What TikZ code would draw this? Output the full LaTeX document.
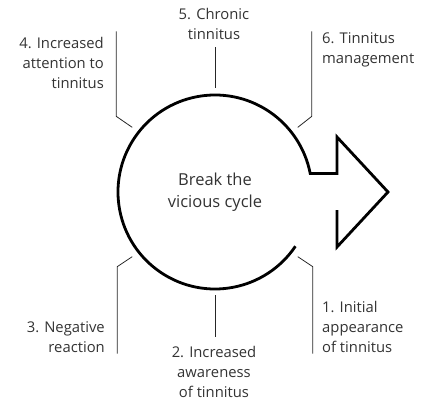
\documentclass[tikz,border=0pt]{standalone}
\usepackage{fontspec}
\setmainfont{Open Sans}
\usetikzlibrary{calc}

\tikzset{
  stage/.style={font=\fontsize{14.8}{20}\selectfont, text=black!80, inner sep=0pt},
  lead/.style={draw=black!85, line width=0.8pt},
}

\begin{document}
\begin{tikzpicture}[x=1pt,y=1pt]

	\useasboundingbox (0,0) rectangle (429,400);
	\coordinate (ctr) at (215,208);

	% the broken cycle turning into an arrow
	\draw [line width=2.8pt, line join=miter] ($(ctr)+(-34:97)$) arc [start angle=-34, end angle=-349, radius=97]
		-- (337,226.5) -- (337,263) -- (388,208) -- (337,153) -- (337,190);
	\node [stage, font=\fontsize{16.5}{22}\selectfont, align=center] (brk) at (ctr) {Break the\\vicious cycle};

	% stages
	\node [stage, align=center, anchor=center] (s5) at (214,376) {5. Chronic\\tinnitus};
	\node [stage, align=right, anchor=east] (s4) at (104,337) {4. Increased\\attention to\\tinnitus};
	\node [stage, align=left, anchor=west] (s6) at (322,350) {6. Tinnitus\\management};
	\node [stage, align=right, anchor=east] (s3) at (105,63) {3. Negative\\reaction};
	\node [stage, align=center, anchor=center] (s2) at (214,28) {2. Increased\\awareness\\of tinnitus};
	\node [stage, align=left, anchor=west] (s1) at (322,73) {1. Initial\\appearance\\of tinnitus};

	% leader lines
	\coordinate (a5) at ($(ctr)+(90:104)$);
	\coordinate (a4) at ($(ctr)+(142:105)$);
	\coordinate (a6) at ($(ctr)+(38:105)$);
	\coordinate (a3) at ($(ctr)+(218:105)$);
	\coordinate (a2) at ($(ctr)+(270:103)$);
	\coordinate (a1) at ($(ctr)+(322:105)$);
	\draw [lead] (a5) -- ++(0,41);
	\draw [lead] (a4) -- ++(-16,11) -- ++(0,85);
	\draw [lead] (a6) -- ++(14,11) -- ++(0,85);
	\draw [lead] (a3) -- ++(-15,-10) -- ++(0,-87);
	\draw [lead] (a2) -- ++(0,-42);
	\draw [lead] (a1) -- ++(15,-10) -- ++(0,-87);

\end{tikzpicture}
\end{document}
